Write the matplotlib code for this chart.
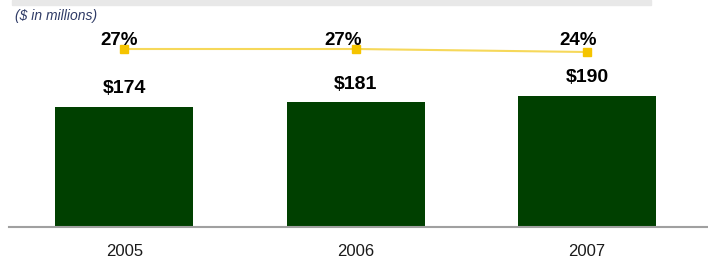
"""
Revenue bars with margin line on top, ($ in millions).
"""

import matplotlib.pyplot as plt
from matplotlib.patches import Rectangle
import numpy as np

plt.rcParams['font.family'] = ['Liberation Sans', 'DejaVu Sans']

GREEN = '#004000'
GOLD = '#f5c400'
LINE = '#f6d85a'
GREY = '#a0a0a0'

years = ['2005', '2006', '2007']      # categories
revenue = [174, 181, 190]             # bar values, $ millions
margin = [27, 27, 24]                 # line values, %
revenue_labels = ['$174', '$181', '$190']
margin_labels = ['27%', '27%', '24%']

W, H = 708, 260
fig = plt.figure(figsize=(W / 100, H / 100), dpi=100)

# Grey band at the very top
fig.patches.append(Rectangle((12 / W, 1 - 5 / H), 639 / W, 5 / H,
                             transform=fig.transFigure, color='#e8e8e8', zorder=0))
fig.text(15 / W, 1 - 20 / H, '($ in millions)', fontsize=10, style='italic',
         color='#2f3b66', va='baseline', ha='left')

ax = fig.add_axes([9 / W, 1 - 227 / H, 699 / W, 227 / H])
x = np.arange(len(years))
ax.bar(x, revenue, width=0.596, color=GREEN, zorder=2)
ax.set_xlim(-0.499, 2.523)
ax.set_ylim(0, 328)
for i, lab in enumerate(revenue_labels):
    ax.annotate(lab, (x[i], revenue[i]), xytext=(0, 9.5), textcoords='offset points',
                ha='center', va='baseline', fontsize=14, fontweight='bold', color='black')

ax.set_xticks(x)
ax.set_xticklabels(years, fontsize=12, color='#1a1a1a')
ax.tick_params(axis='x', length=0, pad=12.5)
ax.set_yticks([])
for s in ['top', 'right', 'left']:
    ax.spines[s].set_visible(False)
ax.spines['bottom'].set_color(GREY)
ax.spines['bottom'].set_linewidth(1.5)

# Margin line on its own scale
ax2 = ax.twinx()
ax2.set_ylim(-151, 76)
ax2.plot(x, margin, color=LINE, lw=1.5, marker='s', markersize=5.5,
         markerfacecolor=GOLD, markeredgecolor=GOLD, zorder=3)
ax2.set_yticks([])
ax2.axis('off')
offs = [-5, -13, -9]  # labels sit a bit left of the markers
for i, lab in enumerate(margin_labels):
    ax2.annotate(lab, (x[i], 0.802), xycoords=('data', 'axes fraction'),
                 xytext=(offs[i] * 0.72, 0), textcoords='offset points',
                 ha='center', va='baseline', fontsize=13.5, fontweight='bold', color='black')

fig.savefig('out.png', dpi=100)
